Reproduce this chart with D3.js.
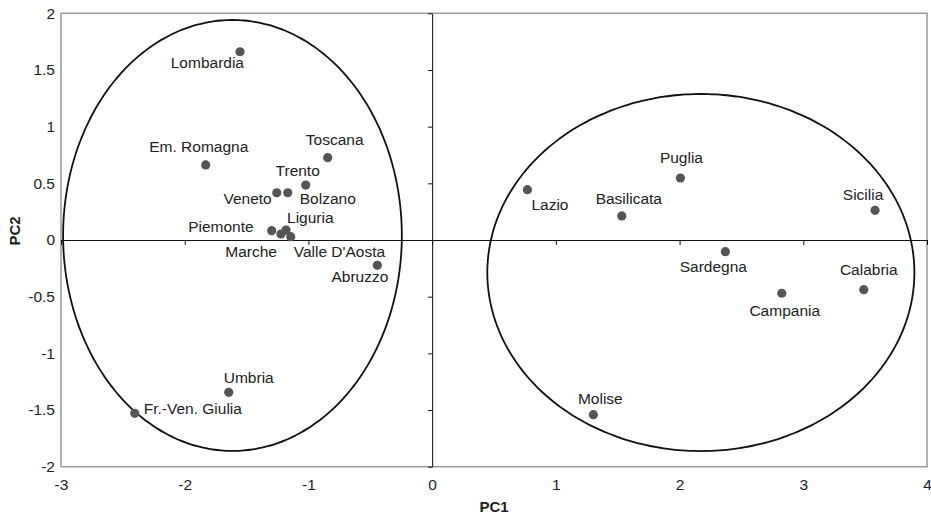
<!DOCTYPE html>
<html>
<head>
<meta charset="utf-8">
<script src="https://cdn.jsdelivr.net/npm/d3@7"></script>
<style>
  html, body { margin: 0; padding: 0; background: #fff; }
  svg { display: block; font-family: "Liberation Sans", Arial, sans-serif; }
</style>
</head>
<body>
<svg id="chart" width="931" height="517"></svg>
<script>
// ---- data ----
const regions = ["Lombardia", "Em. Romagna", "Veneto", "Bolzano", "Trento", "Toscana",
  "Piemonte", "Marche", "Liguria", "Valle D'Aosta", "Abruzzo", "Umbria", "Fr.-Ven. Giulia",
  "Lazio", "Basilicata", "Puglia", "Sicilia", "Sardegna", "Campania", "Calabria", "Molise"];
const pc1 = [-1.553, -1.830, -1.256, -1.167, -1.022, -0.844,
  -1.297, -1.222, -1.181, -1.143, -0.443, -1.644, -2.404,
  0.770, 1.533, 2.007, 3.580, 2.370, 2.826, 3.489, 1.303];
const pc2 = [1.661, 0.662, 0.417, 0.417, 0.485, 0.726,
  0.082, 0.053, 0.088, 0.029, -0.223, -1.344, -1.529,
  0.444, 0.212, 0.547, 0.262, -0.103, -0.470, -0.438, -1.541];
const xTicks = [-3, -2, -1, 0, 1, 2, 3, 4];
const yTicks = [-2, -1.5, -1, -0.5, 0, 0.5, 1, 1.5, 2];
const ellipseCx = [-1.614, 2.172];
const ellipseCy = [0.040, -0.287];
const ellipseRx = [1.369, 1.726];
const ellipseRy = [1.901, 1.575];
const xTitle = "PC1";
const yTitle = "PC2";

// ---- layout (label placement in pixels: dx, dy, anchor) ----
const labelPlace = {
  "Lombardia": [4, 16, "end"],
  "Em. Romagna": [-7, -13, "middle"],
  "Veneto": [-5, 11, "end"],
  "Bolzano": [12, 11, "start"],
  "Trento": [-8, -9, "middle"],
  "Toscana": [7, -13, "middle"],
  "Piemonte": [-18, 1, "end"],
  "Marche": [-4, 23, "end"],
  "Liguria": [1, -7, "start"],
  "Valle D'Aosta": [3, 20, "start"],
  "Abruzzo": [11, 17, "end"],
  "Umbria": [-5, -9, "start"],
  "Fr.-Ven. Giulia": [9, 1, "start"],
  "Lazio": [4, 20, "start"],
  "Basilicata": [7, -12, "middle"],
  "Puglia": [1, -15, "middle"],
  "Sicilia": [-12, -10, "middle"],
  "Sardegna": [-12, 20, "middle"],
  "Campania": [3, 23, "middle"],
  "Calabria": [5, -15, "middle"],
  "Molise": [7, -11, "middle"]
};

const pLeft = 61, pRight = 927, pTop = 13.3, pBottom = 466.7;
const svg = d3.select("#chart");
const x = d3.scaleLinear().domain([-3, 4]).range([pLeft, pRight]);
const y = d3.scaleLinear().domain([-2, 2]).range([pBottom, pTop]);
const fontSize = 15.5;
const textColor = "#222";

// frame
svg.append("rect")
  .attr("x", pLeft).attr("y", pTop)
  .attr("width", pRight - pLeft).attr("height", pBottom - pTop)
  .attr("fill", "none").attr("stroke", "#999").attr("stroke-width", 1.5);

// zero lines with ticks
const xZero = svg.append("g").attr("transform", `translate(0,${y(0)})`)
  .call(d3.axisBottom(x).tickValues(xTicks).tickSize(5).tickSizeOuter(0).tickFormat(""));
xZero.select(".domain").attr("stroke", "#111").attr("stroke-width", 1);
xZero.selectAll(".tick line").attr("stroke", "#111");

const yZero = svg.append("g").attr("transform", `translate(${x(0)},0)`)
  .call(d3.axisLeft(y).tickValues(yTicks).tickSize(4).tickSizeOuter(0).tickFormat(""));
yZero.select(".domain").attr("stroke", "#111").attr("stroke-width", 1);
yZero.selectAll(".tick line").attr("stroke", "#111");

// tick labels at frame
const xLab = svg.append("g").attr("transform", `translate(0,${pBottom})`)
  .call(d3.axisBottom(x).tickValues(xTicks).tickSize(0).tickPadding(12).tickFormat(d => String(d)));
xLab.select(".domain").remove();
xLab.selectAll("text").attr("font-size", fontSize).attr("fill", textColor)
  .attr("font-family", "Liberation Sans, Arial, sans-serif");

const yLab = svg.append("g").attr("transform", `translate(${pLeft},0)`)
  .call(d3.axisLeft(y).tickValues(yTicks).tickSize(0).tickPadding(6).tickFormat(d => String(d)));
yLab.select(".domain").remove();
yLab.selectAll("text").attr("font-size", fontSize).attr("fill", textColor)
  .attr("font-family", "Liberation Sans, Arial, sans-serif");

// ellipses
const angles = d3.range(0, 360, 2).map(a => a * Math.PI / 180);
const line = d3.line().curve(d3.curveCardinalClosed);
ellipseCx.forEach((cx, i) => {
  const pts = angles.map(t => [
    x(cx + ellipseRx[i] * Math.cos(t)),
    y(ellipseCy[i] + ellipseRy[i] * Math.sin(t))
  ]);
  svg.append("path").attr("d", line(pts))
    .attr("fill", "none").attr("stroke", "#111").attr("stroke-width", 1.8);
});

// points
const data = regions.map((r, i) => ({ name: r, a: pc1[i], b: pc2[i] }));
svg.append("g").selectAll("circle").data(data).join("circle")
  .attr("cx", d => x(d.a)).attr("cy", d => y(d.b)).attr("r", 4.6)
  .attr("fill", "#555");

// labels
svg.append("g").selectAll("text").data(data).join("text")
  .attr("x", d => x(d.a) + labelPlace[d.name][0])
  .attr("y", d => y(d.b) + labelPlace[d.name][1])
  .attr("text-anchor", d => labelPlace[d.name][2])
  .attr("font-size", fontSize).attr("fill", textColor)
  .text(d => d.name);

// axis titles
svg.append("text").attr("x", (pLeft + pRight) / 2).attr("y", 511.5)
  .attr("text-anchor", "middle").attr("font-size", 15).attr("font-weight", "bold")
  .attr("fill", textColor).text(xTitle);
svg.append("text").attr("transform", "translate(20,231) rotate(-90)")
  .attr("text-anchor", "middle").attr("font-size", 15).attr("font-weight", "bold")
  .attr("fill", textColor).text(yTitle);
</script>
</body>
</html>
